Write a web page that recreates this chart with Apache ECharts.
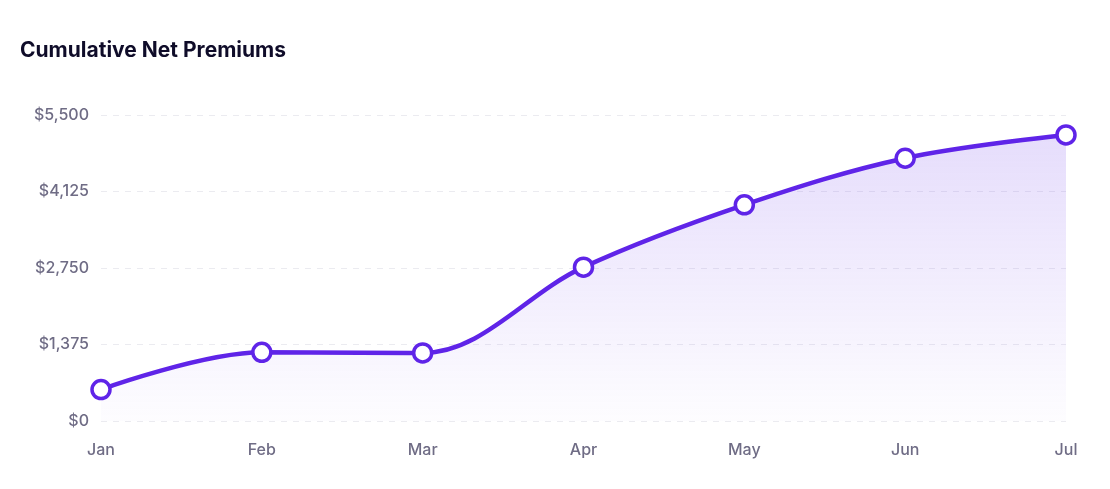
<!DOCTYPE html>
<html>
<head>
<meta charset="utf-8">
<script src="https://cdn.jsdelivr.net/npm/echarts@6/dist/echarts.min.js"></script>
<style>
  html, body { margin: 0; padding: 0; background: #fff; }
  #main { width: 1110px; height: 489px; }
</style>
</head>
<body>
<div id="main"></div>
<script>
// values
var months = ['Jan', 'Feb', 'Mar', 'Apr', 'May', 'Jun', 'Jul'];
var premiums = [565, 1234, 1224, 2765, 3885, 4723, 5141];
var yTicks = [0, 1375, 2750, 4125, 5500];

var chart = echarts.init(document.getElementById('main'));

function money(v) {
  return '$' + v.toLocaleString('en-US');
}

var option = {
  animation: false,
  title: {
    text: 'Cumulative Net Premiums',
    left: 15,
    top: 35,
    textStyle: {
      fontFamily: 'Inter',
      fontSize: 21,
      fontWeight: 700,
      color: '#0f0c29',
      letterSpacing: -0.4
    }
  },
  grid: { left: 101, right: 44, top: 115, bottom: 68 },
  xAxis: {
    type: 'category',
    data: months,
    boundaryGap: false,
    axisLine: { show: false },
    axisTick: { show: false },
    axisLabel: {
      margin: 21,
      fontFamily: 'Inter',
      fontSize: 16,
      fontWeight: 500,
      color: '#6f6c85'
    }
  },
  yAxis: {
    type: 'value',
    min: yTicks[0],
    max: yTicks[yTicks.length - 1],
    interval: yTicks[1] - yTicks[0],
    axisLabel: {
      margin: 12,
      fontFamily: 'Inter',
      fontSize: 16,
      fontWeight: 500,
      color: '#6f6c85',
      formatter: money
    },
    splitLine: {
      lineStyle: { color: '#ebebf0', type: [6, 6], width: 1 }
    }
  },
  series: [{
    type: 'line',
    data: premiums,
    smooth: 0.35,
    symbol: 'circle',
    symbolSize: 18,
    lineStyle: { color: '#5f24e8', width: 4.5 },
    itemStyle: { color: '#ffffff', borderColor: '#5f24e8', borderWidth: 3.5 },
    areaStyle: {
      color: new echarts.graphic.LinearGradient(0, 0, 0, 1, [
        { offset: 0, color: 'rgba(125, 80, 238, 0.28)' },
        { offset: 1, color: 'rgba(125, 80, 238, 0.02)' }
      ])
    }
  }]
};

chart.setOption(option);
</script>
</body>
</html>
